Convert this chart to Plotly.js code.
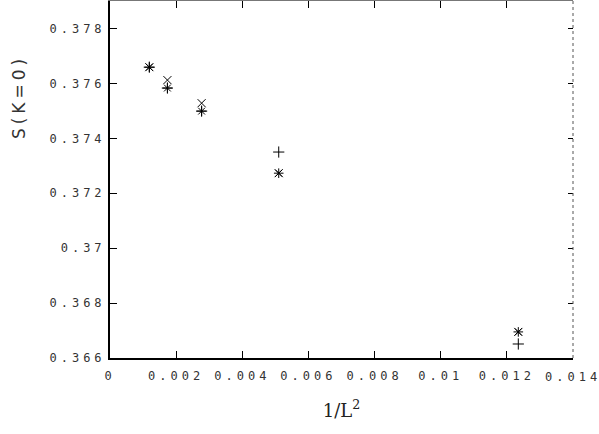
<!DOCTYPE html>
<html>
<head>
<meta charset="utf-8">
<script src="https://cdn.plot.ly/plotly-3.0.1.min.js"></script>
<style>
html,body{margin:0;padding:0;background:#fff;}
#chart{width:599px;height:434px;}
.xtick text, .ytick text { letter-spacing: 4px; }
.annotation-text { letter-spacing: 4px; }
</style>
</head>
<body>
<div id="chart"></div>
<script>
// 1/L^2 values
const xVals = [0.001189, 0.001736, 0.002770, 0.005102, 0.012346];
// S(K=0) series
const starY  = [0.37659, 0.37583, 0.37499, 0.37273, 0.36695];
const plusY  = [0.37659, 0.37583, 0.37499, 0.37350, 0.36651];
const crossY = [0.37659, 0.37612, 0.37528, 0.37273, 0.36695];

const xTicks = [0, 0.002, 0.004, 0.006, 0.008, 0.010, 0.012, 0.014];
const xTickText = ['0', '0.002', '0.004', '0.006', '0.008', '0.01', '0.012', '0.014'];
const yTicks = [0.366, 0.368, 0.370, 0.372, 0.374, 0.376, 0.378];
const yTickText = ['0.366', '0.368', '0.37', '0.372', '0.374', '0.376', '0.378'];

const xRange = [0, 0.014];
const yRange = [0.366, 0.379];

const mk = (sym) => ({symbol: sym, size: 8, color: '#000', line: {color: '#000', width: 1}});

const traces = [
  {x: xVals, y: starY, mode: 'markers', marker: mk('asterisk-open'), showlegend: false},
  {x: xVals, y: plusY, mode: 'markers', marker: mk('cross-thin-open'), showlegend: false},
  {x: xVals, y: crossY, mode: 'markers', marker: mk('x-thin-open'), showlegend: false},
  {x: [], y: [], xaxis: 'x2', yaxis: 'y2', mode: 'markers', showlegend: false, hoverinfo: 'skip'}
];

const tickFont = {family: 'DejaVu Sans Mono', size: 12, color: '#333'};

const layout = {
  width: 599, height: 434,
  margin: {l: 110, r: 26, t: 1, b: 76},
  paper_bgcolor: '#fff', plot_bgcolor: '#fff',
  xaxis: {
    range: xRange, tickvals: xTicks.slice(0, -1), ticktext: xTickText.slice(0, -1),
    ticks: 'inside', ticklen: 7, tickcolor: '#000', tickwidth: 1,
    showline: true, linecolor: '#000', linewidth: 2,
    showgrid: false, zeroline: false, tickfont: tickFont, ticklabelstandoff: 6,
    title: {text: '1/L<sup>2</sup>', font: {family: 'DejaVu Serif', size: 18, color: '#222'}, standoff: 22}
  },
  yaxis: {
    range: yRange, tickvals: yTicks, ticktext: yTickText,
    ticks: 'inside', ticklen: 7, tickcolor: '#000', tickwidth: 1,
    showline: true, linecolor: '#000', linewidth: 2,
    showgrid: false, zeroline: false, tickfont: tickFont
  },
  xaxis2: {
    overlaying: 'x', side: 'top', anchor: 'y2', range: xRange, tickvals: xTicks,
    showticklabels: false, ticks: 'inside', ticklen: 7, tickcolor: '#000',
    showline: true, linecolor: '#777', linewidth: 1, showgrid: false, zeroline: false
  },
  yaxis2: {
    overlaying: 'y', side: 'right', anchor: 'x2', range: yRange, tickvals: yTicks,
    showticklabels: false, ticks: 'inside', ticklen: 5, tickcolor: '#000',
    showline: false, showgrid: false, zeroline: false
  },
  shapes: [
    {type: 'line', xref: 'paper', yref: 'paper', x0: 1, x1: 1, y0: 0, y1: 1,
     line: {color: '#555', width: 1, dash: 'dot'}}
  ],
  annotations: [
    {text: 'S(K=0)', xref: 'paper', yref: 'paper', x: -0.195, y: 0.73,
     showarrow: false, textangle: -90, xanchor: 'center', yanchor: 'middle',
     font: {family: 'DejaVu Sans', size: 17, color: '#333'}},
    {text: xTickText[xTickText.length - 1], xref: 'x', yref: 'paper',
     x: xTicks[xTicks.length - 1], y: -0.052, xanchor: 'center', yanchor: 'middle',
     showarrow: false, font: tickFont}
  ]
};

Plotly.newPlot('chart', traces, layout, {displayModeBar: false, staticPlot: true});
</script>
</body>
</html>
